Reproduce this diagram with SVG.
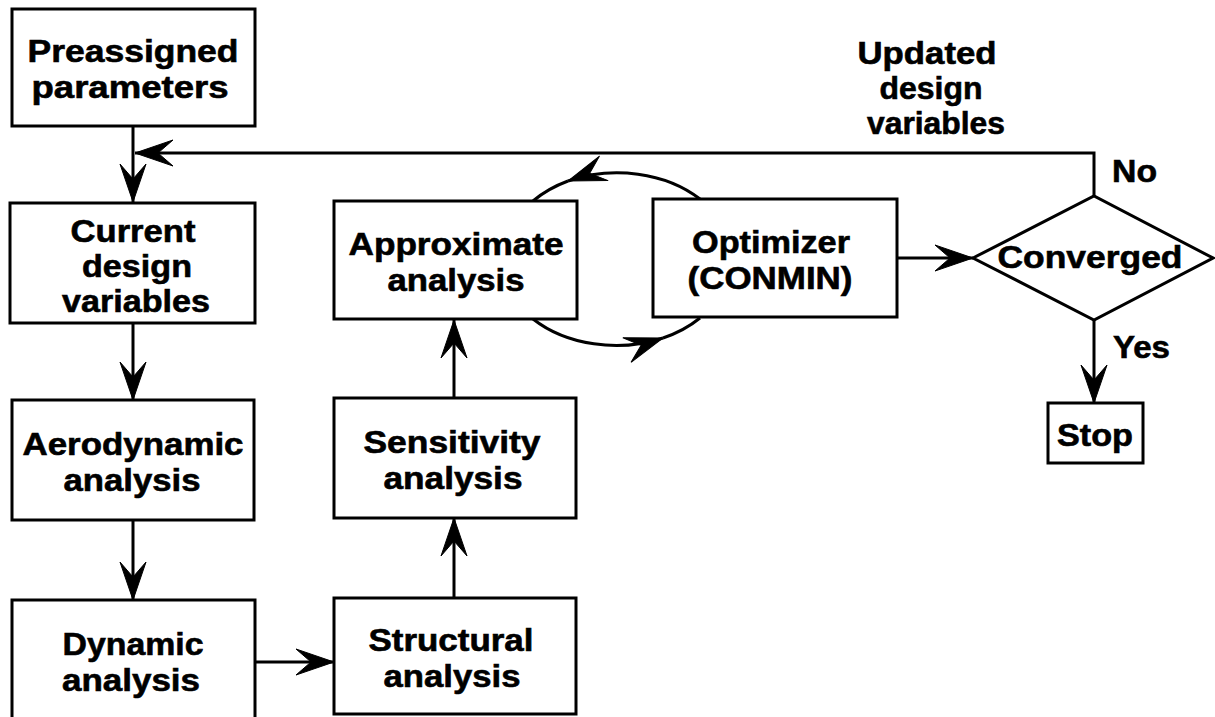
<svg xmlns="http://www.w3.org/2000/svg" width="1215" height="717" viewBox="0 0 1215 717">
<style>
.box{fill:#fff;stroke:#000;stroke-width:3}
.t{font-family:"Liberation Sans",Arial,Helvetica,sans-serif;font-weight:bold;font-size:31px;fill:#000;stroke:#000;stroke-width:0.6;text-anchor:middle}
.ts{font-family:"Liberation Sans",Arial,Helvetica,sans-serif;font-weight:bold;font-size:31px;fill:#000;stroke:#000;stroke-width:0.6;text-anchor:start}
.c{fill:none;stroke:#000;stroke-width:3}
</style>
<defs>
<marker id="ah" viewBox="-40 -15 42 30" markerWidth="42" markerHeight="30" refX="0" refY="0" orient="auto" markerUnits="userSpaceOnUse">
<path d="M0,0 L-38,-13 L-23,0 L-38,13 Z" fill="#000" stroke="#000" stroke-width="1" stroke-linejoin="miter"/>
</marker>
</defs>
<rect width="1215" height="717" fill="#fff"/>
<g id="connectors">
<line class="c" x1="133" y1="126" x2="133" y2="202" marker-end="url(#ah)"/>
<polyline class="c" points="1094,196 1094,153 135,153" marker-end="url(#ah)"/>
<line class="c" x1="133" y1="323" x2="133" y2="400" marker-end="url(#ah)"/>
<line class="c" x1="133" y1="520" x2="133" y2="600" marker-end="url(#ah)"/>
<line class="c" x1="255" y1="662" x2="334" y2="662" marker-end="url(#ah)"/>
<line class="c" x1="454" y1="598" x2="454" y2="518" marker-end="url(#ah)"/>
<line class="c" x1="454" y1="398" x2="454" y2="320" marker-end="url(#ah)"/>
<path class="c" d="M700,199 A114,84 0 0 0 568,181" marker-end="url(#ah)"/>
<path class="c" d="M568,181 A114,84 0 0 0 533,201"/>
<path class="c" d="M533,319 A114,84 0 0 0 663,338" marker-end="url(#ah)"/>
<path class="c" d="M663,338 A114,84 0 0 0 700,318"/>
<line class="c" x1="897" y1="258" x2="973" y2="258" marker-end="url(#ah)"/>
<line class="c" x1="1094" y1="320" x2="1094" y2="403" marker-end="url(#ah)"/>
</g>
<g id="preassigned">
<rect class="box" x="12" y="9" width="243" height="117"/>
<text class="t" x="133" y="62" textLength="211" lengthAdjust="spacingAndGlyphs">Preassigned</text>
<text class="t" x="130" y="98" textLength="197" lengthAdjust="spacingAndGlyphs">parameters</text>
</g>
<g id="current">
<rect class="box" x="10" y="203" width="245" height="120"/>
<text class="t" x="133" y="242" textLength="125" lengthAdjust="spacingAndGlyphs">Current</text>
<text class="t" x="137" y="277" textLength="110" lengthAdjust="spacingAndGlyphs">design</text>
<text class="t" x="136" y="312" textLength="148" lengthAdjust="spacingAndGlyphs">variables</text>
</g>
<g id="aerodynamic">
<rect class="box" x="12" y="400" width="242" height="120"/>
<text class="t" x="133" y="455" textLength="221" lengthAdjust="spacingAndGlyphs">Aerodynamic</text>
<text class="t" x="132" y="491" textLength="137" lengthAdjust="spacingAndGlyphs">analysis</text>
</g>
<g id="dynamic">
<rect class="box" x="12" y="600" width="243" height="122"/>
<text class="t" x="133" y="655" textLength="141" lengthAdjust="spacingAndGlyphs">Dynamic</text>
<text class="t" x="131" y="691" textLength="138" lengthAdjust="spacingAndGlyphs">analysis</text>
</g>
<g id="structural">
<rect class="box" x="334" y="598" width="242" height="116"/>
<text class="t" x="451" y="651" textLength="165" lengthAdjust="spacingAndGlyphs">Structural</text>
<text class="t" x="452" y="687" textLength="137" lengthAdjust="spacingAndGlyphs">analysis</text>
</g>
<g id="sensitivity">
<rect class="box" x="334" y="398" width="242" height="120"/>
<text class="t" x="452" y="453" textLength="177" lengthAdjust="spacingAndGlyphs">Sensitivity</text>
<text class="t" x="453" y="489" textLength="139" lengthAdjust="spacingAndGlyphs">analysis</text>
</g>
<g id="approximate">
<rect class="box" x="334" y="201" width="243" height="118"/>
<text class="t" x="456" y="255" textLength="215" lengthAdjust="spacingAndGlyphs">Approximate</text>
<text class="t" x="456" y="291" textLength="137" lengthAdjust="spacingAndGlyphs">analysis</text>
</g>
<g id="optimizer">
<rect class="box" x="653" y="199" width="244" height="118"/>
<text class="t" x="771" y="253" textLength="158" lengthAdjust="spacingAndGlyphs">Optimizer</text>
<text class="t" x="770" y="289" textLength="165" lengthAdjust="spacingAndGlyphs">(CONMIN)</text>
</g>
<g id="converged">
<polygon class="box" points="973,258 1094,196 1213,258 1094,320"/>
<text class="t" x="1090" y="268" textLength="185" lengthAdjust="spacingAndGlyphs">Converged</text>
</g>
<g id="stop">
<rect class="box" x="1048" y="403" width="95" height="60"/>
<text class="t" x="1095" y="446" textLength="76" lengthAdjust="spacingAndGlyphs">Stop</text>
</g>
<g id="labels">
<text class="t" x="927" y="64" textLength="139" lengthAdjust="spacingAndGlyphs">Updated</text>
<text class="t" x="931" y="99" textLength="103" lengthAdjust="spacingAndGlyphs">design</text>
<text class="t" x="936" y="134" textLength="138" lengthAdjust="spacingAndGlyphs">variables</text>
<text class="ts" x="1112" y="182" textLength="45" lengthAdjust="spacingAndGlyphs">No</text>
<text class="ts" x="1113" y="358" textLength="57" lengthAdjust="spacingAndGlyphs">Yes</text>
</g>
</svg>
